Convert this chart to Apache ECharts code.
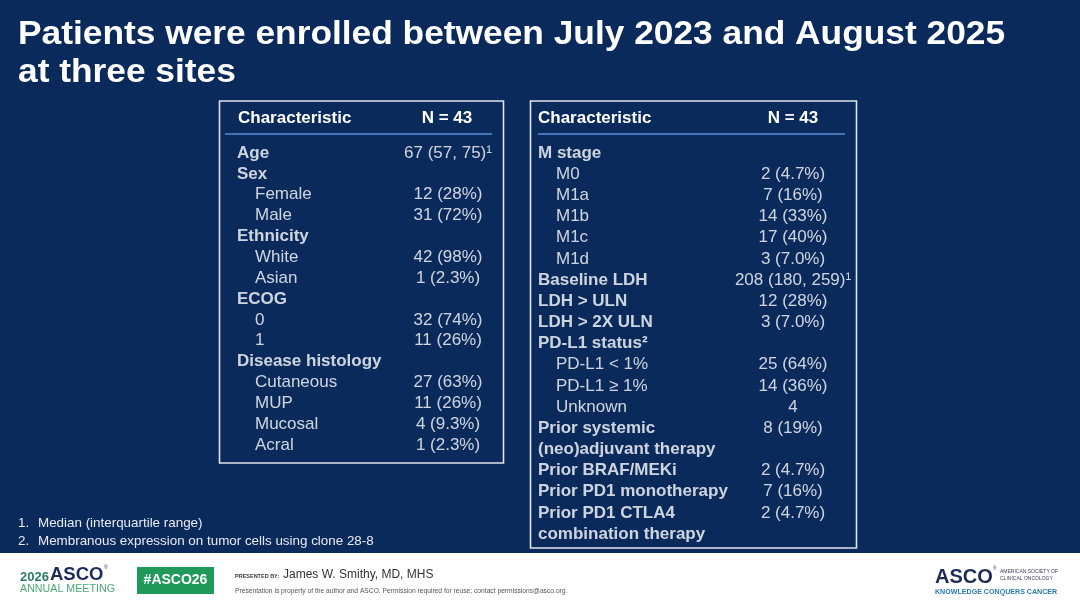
<!DOCTYPE html>
<html>
<head>
<meta charset="utf-8">
<script src="https://cdn.jsdelivr.net/npm/echarts@6.0.0/dist/echarts.min.js"></script>
<style>
html,body{margin:0;padding:0;background:#0a2a5c;}
#main{width:1080px;height:608px;}
</style>
</head>
<body>
<div id="main"></div>
<script>
// table content
let titleLines = ['Patients were enrolled between July 2023 and August 2025', 'at three sites'];
let headerCols = ['Characteristic', 'N = 43'];

let leftLabels = ['Age', 'Sex', 'Female', 'Male', 'Ethnicity', 'White', 'Asian', 'ECOG', '0', '1',
    'Disease histology', 'Cutaneous', 'MUP', 'Mucosal', 'Acral'];
let leftValues = ['67 (57, 75)¹', '', '12 (28%)', '31 (72%)', '', '42 (98%)', '1 (2.3%)', '', '32 (74%)', '11 (26%)',
    '', '27 (63%)', '11 (26%)', '4 (9.3%)', '1 (2.3%)'];
let leftLevel = [0, 0, 1, 1, 0, 1, 1, 0, 1, 1, 0, 1, 1, 1, 1];

let rightLabels = ['M stage', 'M0', 'M1a', 'M1b', 'M1c', 'M1d', 'Baseline LDH', 'LDH > ULN', 'LDH > 2X ULN',
    'PD-L1 status²', 'PD-L1 < 1%', 'PD-L1 ≥ 1%', 'Unknown', 'Prior systemic', '(neo)adjuvant therapy',
    'Prior BRAF/MEKi', 'Prior PD1 monotherapy', 'Prior PD1 CTLA4', 'combination therapy'];
let rightValues = ['', '2 (4.7%)', '7 (16%)', '14 (33%)', '17 (40%)', '3 (7.0%)', '208 (180, 259)¹', '12 (28%)', '3 (7.0%)',
    '', '25 (64%)', '14 (36%)', '4', '8 (19%)', '',
    '2 (4.7%)', '7 (16%)', '2 (4.7%)', ''];
let rightLevel = [0, 1, 1, 1, 1, 1, 0, 0, 0, 0, 1, 1, 1, 0, 0, 0, 0, 0, 0];

let footnotes = ['Median (interquartile range)', 'Membranous expression on tumor cells using clone 28-8'];
let presenter = 'James W. Smithy, MD, MHS';
let disclaimer = 'Presentation is property of the author and ASCO. Permission required for reuse; contact permissions@asco.org.';

const FONT = '"Liberation Sans", Arial, sans-serif';
const BG = '#0a2a5c';

let myChart = echarts.init(document.getElementById('main'));

// one scatter point per cell, text drawn as its label
function cellSeries(labels, values, level, idx) {
    let names = [], cells = [];
    for (let i = 0; i < labels.length; i++) {
        names.push({
            name: labels[i],
            value: [0, i],
            label: {
                offset: [level[i] * 18, 0],
                fontWeight: level[i] ? 'normal' : 'bold'
            }
        });
        if (values[i] !== '') {
            cells.push({name: values[i], value: [1, i]});
        }
    }
    let base = {
        type: 'scatter',
        xAxisIndex: idx,
        yAxisIndex: idx,
        symbolSize: 0,
        silent: true,
        itemStyle: {color: 'rgba(0,0,0,0)'}
    };
    return [
        Object.assign({}, base, {
            data: names,
            label: {
                show: true, position: 'right', distance: 0, formatter: '{b}',
                color: '#ffffff', fontSize: 17, fontFamily: FONT
            }
        }),
        Object.assign({}, base, {
            data: cells,
            label: {
                show: true, position: 'inside', align: 'center', verticalAlign: 'middle', formatter: '{b}',
                color: '#ffffff', fontSize: 17, fontFamily: FONT
            }
        })
    ];
}

function txt(x, y, text, font, fill, align, sx) {
    return {
        type: 'text', x: x, y: y, scaleX: sx || 1, silent: true,
        style: {text: text, font: font, fill: fill, textAlign: align || 'left', textVerticalAlign: 'middle'}
    };
}

let graphics = [
    // table frames
    {type: 'rect', shape: {x: 219.5, y: 101, width: 284, height: 362}, style: {fill: 'none', stroke: '#dfe4ee', lineWidth: 1.6}},
    {type: 'rect', shape: {x: 530.5, y: 101, width: 326, height: 447}, style: {fill: 'none', stroke: '#dfe4ee', lineWidth: 1.6}},
    {type: 'line', shape: {x1: 225, y1: 134, x2: 492, y2: 134}, style: {stroke: '#5c8ed8', lineWidth: 1.4}},
    {type: 'line', shape: {x1: 538, y1: 134, x2: 845, y2: 134}, style: {stroke: '#5c8ed8', lineWidth: 1.4}},
    txt(238, 118, headerCols[0], 'bold 17px ' + FONT, '#ffffff'),
    txt(447, 118, headerCols[1], 'bold 17px ' + FONT, '#ffffff', 'center'),
    txt(538, 118, headerCols[0], 'bold 17px ' + FONT, '#ffffff'),
    txt(793, 118, headerCols[1], 'bold 17px ' + FONT, '#ffffff', 'center'),
    // title
    txt(18, 35, titleLines[0], 'bold 33px ' + FONT, '#ffffff', 'left', 1.07),
    txt(18, 73, titleLines[1], 'bold 33px ' + FONT, '#ffffff', 'left', 1.07),
    // footnotes
    txt(18, 523, '1.', '13.4px ' + FONT, '#e8ebf2'),
    txt(38, 523, footnotes[0], '13.4px ' + FONT, '#e8ebf2'),
    txt(18, 541, '2.', '13.4px ' + FONT, '#e8ebf2'),
    txt(38, 541, footnotes[1], '13.4px ' + FONT, '#e8ebf2'),
    // footer band
    {type: 'rect', shape: {x: 0, y: 553, width: 1080, height: 55}, style: {fill: '#ffffff'}},
    txt(20, 577, '2026', 'bold 13px ' + FONT, '#2a7b63'),
    txt(50, 575, 'ASCO', 'bold 18.5px ' + FONT, '#1c2a5c'),
    txt(104, 568, '®', '5px ' + FONT, '#1c2a5c'),
    txt(20, 589, 'ANNUAL MEETING', '10.7px ' + FONT, '#4aa873'),
    {type: 'rect', shape: {x: 137, y: 567, width: 77, height: 27}, style: {fill: '#1f9a5b'}},
    txt(175.5, 580.5, '#ASCO26', 'bold 14px ' + FONT, '#ffffff', 'center'),
    txt(235, 576, 'PRESENTED BY:', 'bold 5.5px ' + FONT, '#3a3a3a'),
    txt(283, 575, presenter, '12px ' + FONT, '#333333'),
    txt(235, 591, disclaimer, '6.7px ' + FONT, '#555555'),
    txt(935, 577, 'ASCO', 'bold 20px ' + FONT, '#1d2b59'),
    txt(993, 569, '®', '4.5px ' + FONT, '#1d2b59'),
    txt(1000, 572, 'AMERICAN SOCIETY OF', '5px ' + FONT, '#3a3f55'),
    txt(1000, 579, 'CLINICAL ONCOLOGY', '5px ' + FONT, '#3a3f55'),
    txt(935, 592, 'KNOWLEDGE CONQUERS CANCER', 'bold 7.1px ' + FONT, '#2a7bb0')
];

let option = {
    backgroundColor: BG,
    animation: false,
    grid: [{
        left: 237, width: 211, top: 142.6, height: 312.9
    }, {
        left: 538, width: 255, top: 142.4, height: 402.2
    }],
    xAxis: [
        {type: 'value', gridIndex: 0, min: 0, max: 1, show: false},
        {type: 'value', gridIndex: 1, min: 0, max: 1, show: false}
    ],
    yAxis: [
        {type: 'category', gridIndex: 0, inverse: true, data: leftLabels, show: false},
        {type: 'category', gridIndex: 1, inverse: true, data: rightLabels, show: false}
    ],
    graphic: graphics,
    series: cellSeries(leftLabels, leftValues, leftLevel, 0)
        .concat(cellSeries(rightLabels, rightValues, rightLevel, 1))
};
myChart.setOption(option);
</script>
</body>
</html>
